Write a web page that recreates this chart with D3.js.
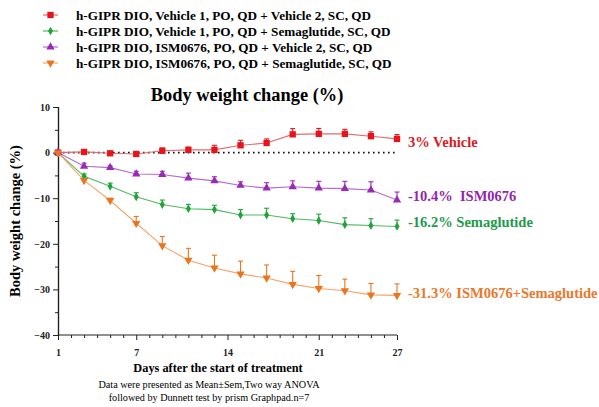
<!DOCTYPE html>
<html>
<head>
<meta charset="utf-8">
<script src="https://cdn.jsdelivr.net/npm/d3@7"></script>
<style>
  body { margin: 0; background: #fff; }
  text { font-family: "Liberation Serif", "Times New Roman", serif; }
</style>
</head>
<body>
<div class="canvas"></div>
<script>
// days measured
const days = [1, 3, 5, 7, 9, 11, 13, 15, 17, 19, 21, 23, 25, 27];

// mean body weight change (%) per group
const vehicleMean = [0, 0.15, -0.15, -0.3, 0.4, 0.6, 0.6, 1.6, 2.1, 4.0, 4.1, 4.1, 3.6, 3.0];
const vehicleSem  = [0, 0.3, 0.4, 0.3, 0.6, 0.6, 1.0, 1.1, 0.9, 1.25, 1.2, 1.0, 0.95, 0.95];

const semaMean = [0, -5.2, -7.4, -9.7, -11.4, -12.3, -12.5, -13.7, -13.7, -14.5, -14.9, -15.8, -16.0, -16.2];
const semaSem  = [0, 0.5, 0.7, 0.9, 1.0, 0.95, 0.95, 1.2, 1.5, 1.1, 1.4, 1.5, 1.5, 1.4];

const ismMean = [0, -3.0, -3.3, -4.7, -4.8, -5.6, -6.2, -7.2, -7.8, -7.5, -7.8, -7.9, -8.2, -10.4];
const ismSem  = [0, 0.7, 0.4, 0.6, 0.7, 1.1, 0.9, 0.8, 1.2, 1.3, 1.5, 1.6, 1.8, 1.75];

const comboMean = [0, -6.1, -10.5, -15.5, -20.4, -23.6, -25.3, -26.6, -27.5, -28.9, -29.8, -30.3, -31.2, -31.3];
const comboSem  = [0, 0.3, 0.5, 1.5, 2.0, 2.6, 2.8, 2.8, 2.86, 2.86, 2.86, 2.56, 2.5, 2.5];

const legendLabels = [
    'h-GIPR DIO, Vehicle 1, PO, QD + Vehicle 2, SC, QD',
    'h-GIPR DIO, Vehicle 1, PO, QD + Semaglutide, SC, QD',
    'h-GIPR DIO, ISM0676, PO, QD + Vehicle 2, SC, QD',
    'h-GIPR DIO, ISM0676, PO, QD + Semaglutide, SC, QD'
];
const endLabels = ['3% Vehicle', '-16.2% Semaglutide', '-10.4%\u00a0\u00a0ISM0676', '-31.3% ISM0676+Semaglutide'];

const xTicks = [1, 7, 14, 21, 27];
const yTicks = [10, 0, -10, -20, -30, -40];

// series styling (order matches legend)
const series = [
    { mean: vehicleMean, sem: vehicleSem, line: '#e36b6b', mark: '#e8141b', text: '#d42027', shape: d3.symbolSquare, size: 40, rot: 0 },
    { mean: semaMean, sem: semaSem, line: '#52b860', mark: '#1fa33a', text: '#229a4c', shape: d3.symbolDiamond, size: 22, rot: 0 },
    { mean: ismMean, sem: ismSem, line: '#b56ad4', mark: '#9a28b8', text: '#9326ab', shape: d3.symbolTriangle, size: 30, rot: 0 },
    { mean: comboMean, sem: comboSem, line: '#f3a56a', mark: '#e9751f', text: '#e8782c', shape: d3.symbolTriangle, size: 30, rot: 180 }
];

const svg = d3.select('.canvas')
    .append('svg')
    .attr('width', 599)
    .attr('height', 407);

const x = d3.scaleLinear().domain([1, 27]).range([58, 397]);
const y = d3.scaleLinear().domain([-40, 10]).range([335, 107]);

// legend
const legend = svg.append('g');
legendLabels.forEach((lab, i) => {
    const s = series[i];
    const g = legend.append('g').attr('transform', `translate(0, ${15 + i * 16})`);
    g.append('line').attr('x1', 43).attr('x2', 58).attr('stroke', s.line).attr('stroke-width', 1.2);
    g.append('path')
        .attr('d', d3.symbol().type(s.shape).size(s.size)())
        .attr('transform', `translate(50.5, 0) rotate(${s.rot})`)
        .attr('fill', s.mark);
    g.append('text')
        .attr('x', 76).attr('dy', '0.35em')
        .attr('font-size', 13.2).attr('font-weight', 'bold')
        .text(lab);
});

// title
svg.append('text')
    .attr('x', 247).attr('y', 101)
    .attr('text-anchor', 'middle')
    .attr('font-size', 18.4).attr('font-weight', 'bold')
    .text('Body weight change (%)');

// axes
const yAxis = svg.append('g').attr('transform', 'translate(58, 0)');
yAxis.call(d3.axisLeft(y).tickValues(yTicks).tickSize(5).tickFormat(d3.format('d')));
yAxis.append('g').call(d3.axisLeft(y).tickValues(d3.range(-35, 10, 10)).tickSize(3).tickFormat(''));

const xAxis = svg.append('g').attr('transform', 'translate(0, 335)');
xAxis.call(d3.axisBottom(x).tickValues(xTicks).tickSize(5).tickFormat(d3.format('d')));
xAxis.append('g').call(d3.axisBottom(x).tickValues(d3.range(2, 27).filter(d => !xTicks.includes(d))).tickSize(3).tickFormat(''));

svg.selectAll('.domain').attr('stroke', '#222').attr('stroke-width', 1.2);
svg.selectAll('.tick line').attr('stroke', '#222');
svg.selectAll('.tick text')
    .attr('font-family', '"Liberation Serif", serif')
    .attr('font-weight', 'bold')
    .attr('font-size', 10)
    .attr('fill', '#222');
xAxis.selectAll('.tick text').attr('dy', '1.3em');
yAxis.selectAll('.tick text').attr('x', -8);
xAxis.selectAll('.domain').remove();
xAxis.append('line').attr('x1', 58).attr('x2', 397).attr('stroke', '#222').attr('stroke-width', 1.2);

// zero reference
svg.append('line')
    .attr('x1', x(1)).attr('x2', x(27))
    .attr('y1', y(0)).attr('y2', y(0))
    .attr('stroke', '#111').attr('stroke-width', 1.6)
    .attr('stroke-dasharray', '1.6 3.4');

// series
const line = d3.line().x(d => x(d.day)).y(d => y(d.mean));
series.forEach(s => {
    const pts = days.map((day, i) => ({ day, mean: s.mean[i], sem: s.sem[i] }));
    const g = svg.append('g');
    g.append('path')
        .datum(pts)
        .attr('d', line)
        .attr('fill', 'none')
        .attr('stroke', s.line)
        .attr('stroke-width', 1.1);
    // error bars (upper only)
    const eb = g.selectAll('.eb').data(pts.filter(d => d.sem > 0)).enter().append('g');
    eb.append('line')
        .attr('x1', d => x(d.day)).attr('x2', d => x(d.day))
        .attr('y1', d => y(d.mean)).attr('y2', d => y(d.mean + d.sem))
        .attr('stroke', s.mark).attr('stroke-width', 1.1);
    eb.append('line')
        .attr('x1', d => x(d.day) - 2.5).attr('x2', d => x(d.day) + 2.5)
        .attr('y1', d => y(d.mean + d.sem)).attr('y2', d => y(d.mean + d.sem))
        .attr('stroke', s.mark).attr('stroke-width', 1.1);
    g.selectAll('.pt').data(pts).enter().append('path')
        .attr('d', d3.symbol().type(s.shape).size(s.size)())
        .attr('transform', d => `translate(${x(d.day)}, ${y(d.mean)}) rotate(${s.rot})`)
        .attr('fill', s.mark);
});

// end labels, nudged in data units like the original annotations
const endY = [vehicleMean, semaMean, ismMean, comboMean].map(m => m[m.length - 1]);
const endOffsets = [-0.7, 1.1, 0.8, 0.45];
endLabels.forEach((lab, i) => {
    svg.append('text')
        .attr('x', 408)
        .attr('y', y(endY[i] + endOffsets[i]))
        .attr('dy', '0.35em')
        .attr('font-size', 14.5).attr('font-weight', 'bold')
        .attr('fill', series[i].text)
        .text(lab);
});

// axis titles
svg.append('text')
    .attr('transform', 'translate(20, 221) rotate(-90)')
    .attr('text-anchor', 'middle')
    .attr('font-size', 14.5).attr('font-weight', 'bold')
    .text('Body weight change (%)');

svg.append('text')
    .attr('x', 218).attr('y', 372)
    .attr('text-anchor', 'middle')
    .attr('font-size', 12.3).attr('font-weight', 'bold')
    .text('Days after the start of treatment');

svg.append('text')
    .attr('x', 209).attr('y', 388)
    .attr('text-anchor', 'middle')
    .attr('font-size', 10.2)
    .text('Data were presented as Mean\u00b1Sem,Two way ANOVA');
svg.append('text')
    .attr('x', 209).attr('y', 401)
    .attr('text-anchor', 'middle')
    .attr('font-size', 10.2)
    .text('followed by Dunnett test by prism Graphpad.n=7');
</script>
</body>
</html>
